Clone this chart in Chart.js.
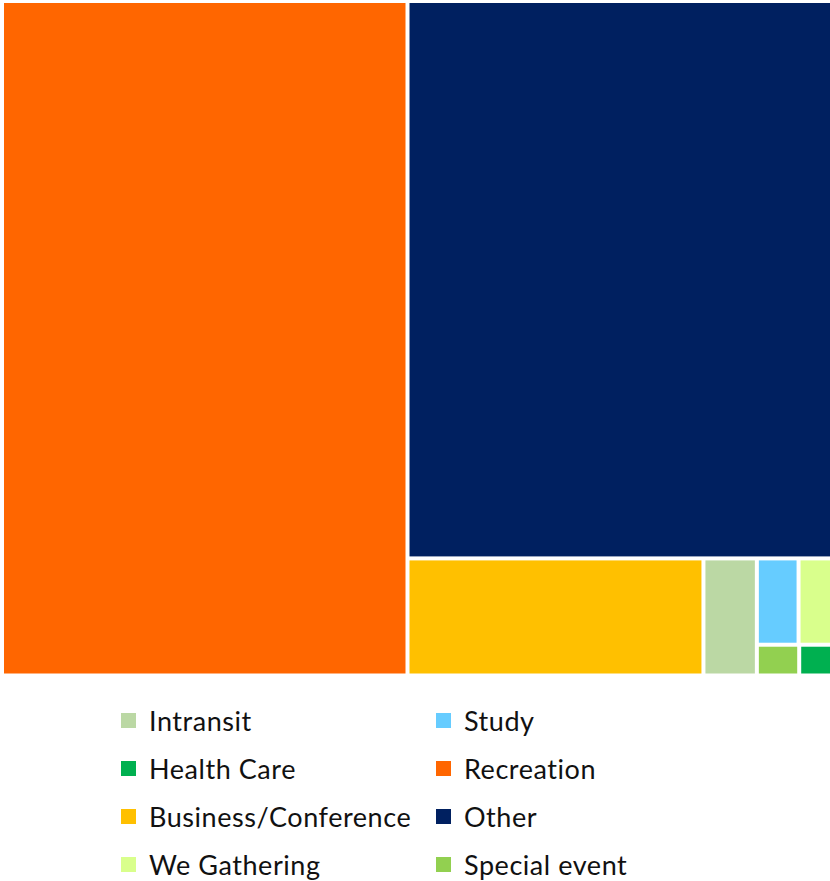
<!DOCTYPE html>
<html lang="en">

<head>
    <meta charset="UTF-8" />
    <title>Travel Purpose Treemap</title>
    <script src="https://cdn.jsdelivr.net/npm/chart.js"></script>
    <style>
        body {
            margin: 0;
            background: #fff;
            font-family: Lato, sans-serif;
        }

        #wrap {
            position: relative;
            width: 830px;
            height: 881px;
        }

        #box {
            position: absolute;
            left: 0;
            top: 0;
            width: 830px;
            height: 676px;
        }

        #legend {
            position: absolute;
            left: 121px;
            top: 696px;
            display: grid;
            grid-template-columns: 315px 300px;
            grid-auto-rows: 48px;
        }

        .item {
            display: flex;
            align-items: center;
            font-size: 27px;
            letter-spacing: 0.55px;
            color: #111;
            white-space: nowrap;
        }

        .swatch {
            width: 15px;
            height: 15px;
            margin-right: 13px;
            flex: none;
        }
    </style>
</head>

<body>
    <div id="wrap">
        <div id="box"><canvas id="treeChart"></canvas></div>
        <div id="legend"></div>
    </div>

    <script>
        // categories in legend order, with share of trips (%)
        const categories = ["Intransit", "Study", "Health Care", "Recreation",
            "Business/Conference", "Other", "We Gathering", "Special event"];
        const shares = [1.11, 0.65, 0.16, 48.85, 6.15, 42.37, 0.49, 0.22];
        const colors = ["#BBD8A4", "#66CCFF", "#00B050", "#FF6600",
            "#FFC000", "#002060", "#D9FF8C", "#92D050"];

        // how many cells (largest first) share each strip of the layout
        const stripSizes = [1, 1, 1, 1, 2, 1, 1];
        const GAP = 2;

        // strip layout in value space (x and y both 0..100)
        function layoutCells(area) {
            const order = shares.map((v, i) => i).sort((a, b) => shares[b] - shares[a]);
            let remaining = shares.reduce((a, b) => a + b, 0);
            let x0 = 0, y0 = 0, x1 = 100, y1 = 100;
            const pxX = area.width / 100, pxY = area.height / 100;
            const cells = [];
            let k = 0;
            stripSizes.forEach(n => {
                const idx = order.slice(k, k + n);
                const s = idx.reduce((a, i) => a + shares[i], 0);
                const w = x1 - x0, h = y1 - y0;
                if (w * pxX >= h * pxY) {
                    // column on the left, spanning the height
                    const cw = w * s / remaining;
                    let y = y0;
                    idx.forEach(i => {
                        const ch = h * shares[i] / s;
                        cells.push({ i, x0: x0, x1: x0 + cw, y0: y, y1: y + ch });
                        y += ch;
                    });
                    x0 += cw;
                } else {
                    // row on top, spanning the width
                    const rh = h * s / remaining;
                    let x = x0;
                    idx.forEach(i => {
                        const cw = w * shares[i] / s;
                        cells.push({ i, x0: x, x1: x + cw, y0: y0, y1: y0 + rh });
                        x += cw;
                    });
                    y0 += rh;
                }
                remaining -= s;
                k += n;
            });
            return cells;
        }

        const treemapPlugin = {
            id: "treemap",
            afterDatasetsDraw(chart) {
                const { ctx, scales: { x, y }, chartArea } = chart;
                const eps = 1e-6;
                layoutCells(chartArea).forEach(c => {
                    let left = x.getPixelForValue(c.x0);
                    let right = x.getPixelForValue(c.x1);
                    let top = y.getPixelForValue(c.y0);
                    let bottom = y.getPixelForValue(c.y1);
                    if (c.x0 > eps) left += GAP;
                    if (c.x1 < 100 - eps) right -= GAP;
                    if (c.y0 > eps) top += GAP;
                    if (c.y1 < 100 - eps) bottom -= GAP;
                    ctx.save();
                    ctx.fillStyle = colors[c.i];
                    ctx.fillRect(left, top, right - left, bottom - top);
                    ctx.restore();
                });
            }
        };

        const chart = new Chart(document.getElementById("treeChart"), {
            type: "scatter",
            data: {
                datasets: categories.map((c, i) => ({
                    label: c,
                    data: [],
                    backgroundColor: colors[i]
                }))
            },
            options: {
                responsive: true,
                maintainAspectRatio: false,
                animation: false,
                layout: { padding: { left: 4, top: 3, right: 0, bottom: 2.5 } },
                plugins: {
                    legend: { display: false },
                    tooltip: { enabled: false }
                },
                scales: {
                    x: { type: "linear", min: 0, max: 100, display: false },
                    y: { type: "linear", min: 0, max: 100, reverse: true, display: false }
                }
            },
            plugins: [treemapPlugin]
        });

        // legend, two columns
        const legend = document.getElementById("legend");
        chart.data.datasets.forEach(ds => {
            const item = document.createElement("div");
            item.className = "item";
            const sw = document.createElement("span");
            sw.className = "swatch";
            sw.style.background = ds.backgroundColor;
            item.appendChild(sw);
            item.appendChild(document.createTextNode(ds.label));
            legend.appendChild(item);
        });
    </script>

</body>

</html>
